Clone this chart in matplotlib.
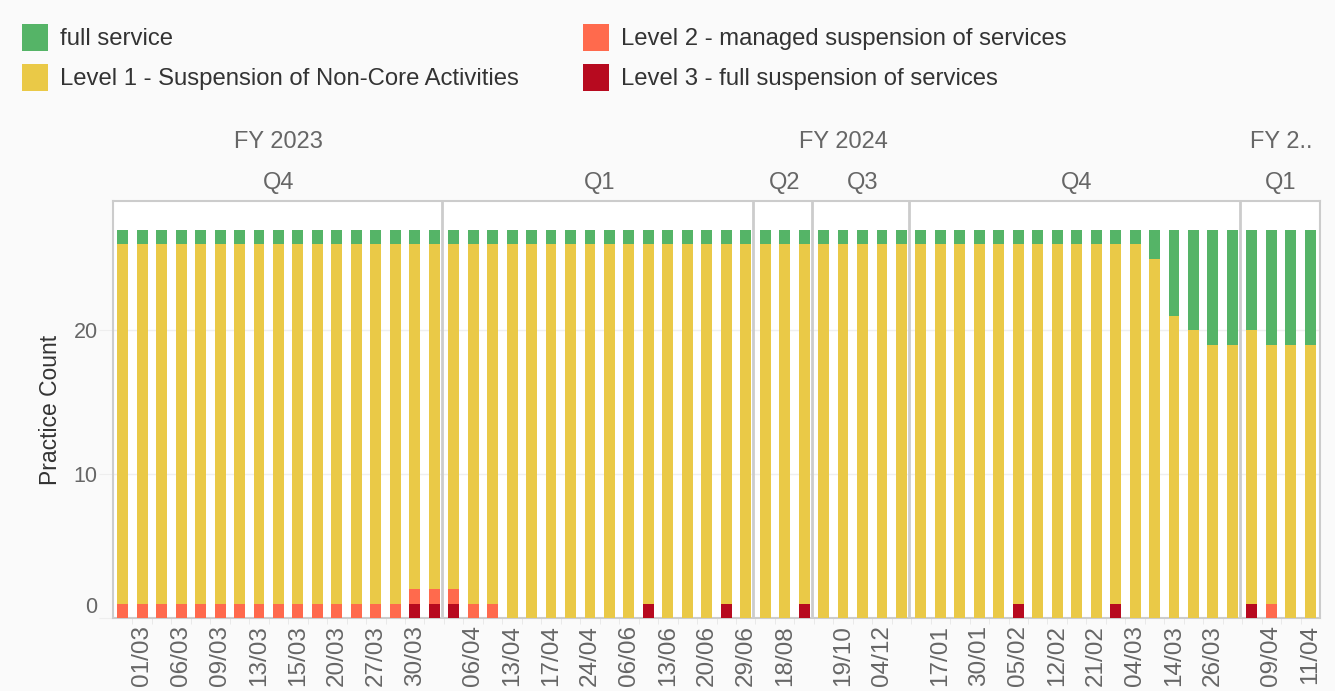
import matplotlib
matplotlib.use("Agg")
import matplotlib.pyplot as plt
import matplotlib.transforms as mtransforms
from matplotlib.patches import Rectangle

plt.rcParams['font.family'] = ['Liberation Sans', 'DejaVu Sans']

# ---------------- data ----------------
dates = [
    # FY 2023 Q4
    "28/02", "01/03", "02/03", "06/03", "07/03", "09/03", "10/03", "13/03", "14/03",
    "15/03", "17/03", "20/03", "23/03", "27/03", "28/03", "30/03", "31/03",
    # FY 2024 Q1
    "03/04", "06/04", "11/04", "13/04", "14/04", "17/04", "20/04", "24/04",
    "27/04", "06/06", "08/06", "13/06", "15/06", "20/06", "23/06", "29/06",
    # FY 2024 Q2
    "10/08", "18/08", "21/09",
    # FY 2024 Q3
    "05/10", "19/10", "13/11", "04/12", "18/12",
    # FY 2024 Q4
    "10/01", "17/01", "24/01", "30/01", "01/02", "05/02", "08/02", "12/02", "16/02",
    "21/02", "28/02", "04/03", "07/03", "14/03", "21/03", "26/03", "28/03",
    # FY 2025 Q1
    "05/04", "09/04", "10/04", "11/04",
]
quarters = ["Q4", "Q1", "Q2", "Q3", "Q4", "Q1"]
quarter_sizes = [17, 16, 3, 5, 17, 4]
fiscal_years = ["FY 2023", "FY 2024", "FY 2.."]
fy_quarter_counts = [1, 4, 1]

level3 = [
    0, 0, 0, 0, 0, 0, 0, 0, 0, 0, 0, 0, 0, 0, 0, 1, 1,
    1, 0, 0, 0, 0, 0, 0, 0, 0, 0, 1, 0, 0, 0, 1, 0,
    0, 0, 1,
    0, 0, 0, 0, 0,
    0, 0, 0, 0, 0, 1, 0, 0, 0, 0, 1, 0, 0, 0, 0, 0, 0,
    1, 0, 0, 0,
]
level2 = [
    1, 1, 1, 1, 1, 1, 1, 1, 1, 1, 1, 1, 1, 1, 1, 1, 1,
    1, 1, 1, 0, 0, 0, 0, 0, 0, 0, 0, 0, 0, 0, 0, 0,
    0, 0, 0,
    0, 0, 0, 0, 0,
    0, 0, 0, 0, 0, 0, 0, 0, 0, 0, 0, 0, 0, 0, 0, 0, 0,
    0, 1, 0, 0,
]
level1 = [
    25, 25, 25, 25, 25, 25, 25, 25, 25, 25, 25, 25, 25, 25, 25, 24, 24,
    24, 25, 25, 26, 26, 26, 26, 26, 26, 26, 25, 26, 26, 26, 25, 26,
    26, 26, 25,
    26, 26, 26, 26, 26,
    26, 26, 26, 26, 26, 25, 26, 26, 26, 26, 25, 26, 25, 21, 20, 19, 19,
    19, 18, 19, 19,
]
full_service = [
    1, 1, 1, 1, 1, 1, 1, 1, 1, 1, 1, 1, 1, 1, 1, 1, 1,
    1, 1, 1, 1, 1, 1, 1, 1, 1, 1, 1, 1, 1, 1, 1, 1,
    1, 1, 1,
    1, 1, 1, 1, 1,
    1, 1, 1, 1, 1, 1, 1, 1, 1, 1, 1, 1, 2, 6, 7, 8, 8,
    7, 8, 8, 8,
]

series_names = ["full service", "Level 1 - Suspension of Non-Core Activities",
                "Level 2 - managed suspension of services", "Level 3 - full suspension of services"]
colors = {"full": "#55b467", "l1": "#eac947", "l2": "#ff6a4d", "l3": "#b70a1f"}

# ---------------- figure ----------------
W, H = 1335, 691
fig = plt.figure(figsize=(W / 100, H / 100), dpi=100, facecolor="#fafafa")
ax = fig.add_axes([113 / W, 1 - 618 / H, (1320 - 113) / W, (618 - 201) / H])
ax.set_facecolor("white")

x = list(range(len(dates)))
bw = 0.56
bottom = [0] * len(x)
for vals, key in [(level3, "l3"), (level2, "l2"), (level1, "l1"), (full_service, "full")]:
    ax.bar(x, vals, width=bw, bottom=bottom, color=colors[key], linewidth=0, zorder=3)
    bottom = [b + v for b, v in zip(bottom, vals)]

ax.set_xlim(-0.5, len(x) - 0.5)
ax.set_ylim(0, 29)
ax.set_yticks([0, 10, 20])
ax.yaxis.grid(True, color="#efefef", linewidth=1, zorder=0)
ax.tick_params(axis="y", length=10, color="#eeeeee", labelsize=15.5, labelcolor="#666666", pad=1)
for s in ax.spines.values():
    s.set_color("#cccccc")
    s.set_linewidth(1.5)

# lift the 0 label like the reference
lbls = ax.get_yticklabels()
off = mtransforms.ScaledTranslation(0, 13 / 100, fig.dpi_scale_trans)
lbls[0].set_transform(lbls[0].get_transform() + off)

# x tick labels: every other date within each quarter group
tick_pos, tick_lab = [], []
start = 0
for size in quarter_sizes:
    for j in range(size):
        if j % 2 == 1:
            tick_pos.append(start + j)
            tick_lab.append(dates[start + j])
    start += size
ax.set_xticks(tick_pos)
ax.set_xticklabels(tick_lab, rotation=90, fontsize=17.5, color="#666666")
ax.tick_params(axis="x", length=0, pad=5)
ax.set_xticks([i + 0.5 for i in range(len(x) - 1)], minor=True)
ax.tick_params(axis="x", which="minor", length=4, color="#e6e6e6")

ax.set_ylabel("Practice Count", fontsize=16.5, color="#333333", labelpad=8)

# group dividers and header labels
tr = mtransforms.blended_transform_factory(ax.transData, fig.transFigure)
start = 0
bounds = []
for q, size in zip(quarters, quarter_sizes):
    lo, hi = start - 0.5, start + size - 0.5
    bounds.append((lo, hi))
    ax.text((lo + hi) / 2, 1 - 183 / H, q, transform=tr, ha="center", va="center",
            fontsize=17, color="#666666")
    if start + size < len(x):
        ax.axvline(hi - 0.1, color="#cccccc", linewidth=2, zorder=4)
    start += size

qi = 0
for fy, n in zip(fiscal_years, fy_quarter_counts):
    lo = bounds[qi][0]
    hi = bounds[qi + n - 1][1]
    ax.text((lo + hi) / 2, 1 - 142 / H, fy, transform=tr, ha="center", va="center",
            fontsize=17, color="#666666")
    qi += n

# legend (two columns, row-wise like the reference)
legend_items = [
    (series_names[0], colors["full"], 22, 37),
    (series_names[2], colors["l2"], 583, 37),
    (series_names[1], colors["l1"], 22, 77),
    (series_names[3], colors["l3"], 583, 77),
]
for name, col, lx, ly in legend_items:
    fig.patches.append(Rectangle((lx / W, 1 - (ly + 13.5) / H), 26 / W, 27 / H,
                                 transform=fig.transFigure, facecolor=col, edgecolor="none"))
    fig.text((lx + 38) / W, 1 - (ly + 2) / H, name, ha="left", va="center", fontsize=17.2,
             color="#333333")

fig.savefig("out.png", dpi=100, facecolor=fig.get_facecolor())
